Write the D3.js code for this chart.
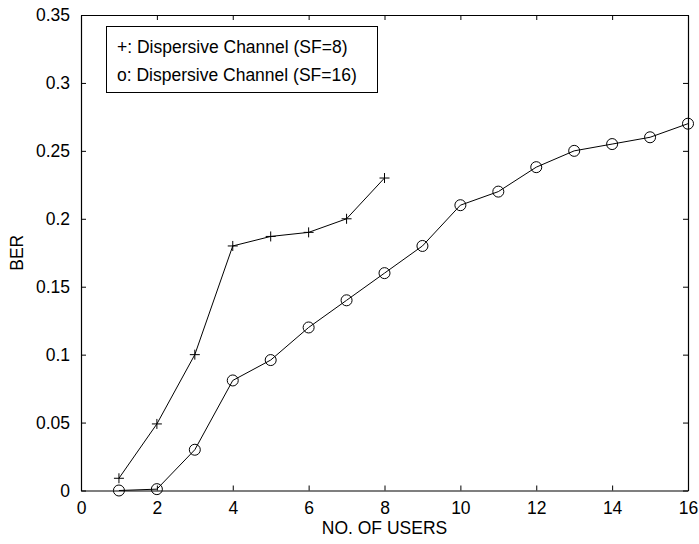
<!DOCTYPE html>
<html>
<head>
<meta charset="utf-8">
<script src="https://cdn.jsdelivr.net/npm/d3@7"></script>
<style>
  body { margin: 0; background: #fff; }
  svg text { font-family: "Liberation Sans", Arial, sans-serif; font-size: 17.5px; fill: #000; }
</style>
</head>
<body>
<svg id="chart" width="699" height="544"></svg>
<script>
// data
const usersSF8 = [1, 2, 3, 4, 5, 6, 7, 8];
const berSF8 = [0.009, 0.049, 0.1, 0.18, 0.187, 0.19, 0.2, 0.23];
const usersSF16 = [1, 2, 3, 4, 5, 6, 7, 8, 9, 10, 11, 12, 13, 14, 15, 16];
const berSF16 = [0, 0.001, 0.03, 0.081, 0.096, 0.12, 0.14, 0.16, 0.18, 0.21, 0.22, 0.238, 0.25, 0.255, 0.26, 0.27];
const xTicks = [0, 2, 4, 6, 8, 10, 12, 14, 16];
const yTicks = [0, 0.05, 0.1, 0.15, 0.2, 0.25, 0.3, 0.35];
const legendLabels = ["+: Dispersive Channel (SF=8)", "o: Dispersive Channel (SF=16)"];

const m = { left: 81, right: 688, top: 15, bottom: 490.5 };
const svg = d3.select("#chart");

const x = d3.scaleLinear().domain([0, 16]).range([m.left, m.right]);
const y = d3.scaleLinear().domain([0, 0.35]).range([m.bottom, m.top]);

// box + inward ticks on all four sides (matlab style)
const axes = svg.append("g");
const fmtY = d => d === 0 ? "0" : String(+d.toFixed(2));

axes.append("g").attr("transform", `translate(0,${m.bottom})`)
  .call(d3.axisBottom(x).tickValues(xTicks).tickSizeInner(-5).tickSizeOuter(0).tickPadding(11));
axes.append("g").attr("transform", `translate(0,${m.top})`)
  .call(d3.axisTop(x).tickValues(xTicks).tickSizeInner(-5).tickSizeOuter(0).tickFormat(""));
axes.append("g").attr("transform", `translate(${m.left},0)`)
  .call(d3.axisLeft(y).tickValues(yTicks).tickSizeInner(-5).tickSizeOuter(0).tickPadding(11).tickFormat(fmtY));
axes.append("g").attr("transform", `translate(${m.right},0)`)
  .call(d3.axisRight(y).tickValues(yTicks).tickSizeInner(-5).tickSizeOuter(0).tickFormat(""));

axes.selectAll(".domain").attr("stroke", "#000").attr("stroke-width", 1.2);
axes.selectAll(".tick line").attr("stroke", "#000").attr("stroke-width", 1);
axes.selectAll("text").attr("font-family", null).attr("font-size", null).attr("fill", "#000");

// series lines
const line = d3.line().x(d => x(d[0])).y(d => y(d[1]));
const s8 = d3.zip(usersSF8, berSF8);
const s16 = d3.zip(usersSF16, berSF16);

svg.append("path").datum(s8).attr("d", line)
  .attr("fill", "none").attr("stroke", "#000").attr("stroke-width", 1);
svg.append("path").datum(s16).attr("d", line)
  .attr("fill", "none").attr("stroke", "#000").attr("stroke-width", 1);

// markers: plus for SF=8, open circle for SF=16
svg.append("g").selectAll("path").data(s8).join("path")
  .attr("d", d => `M${x(d[0]) - 5},${y(d[1])}H${x(d[0]) + 5}M${x(d[0])},${y(d[1]) - 5}V${y(d[1]) + 5}`)
  .attr("stroke", "#000").attr("stroke-width", 1).attr("fill", "none");
svg.append("g").selectAll("circle").data(s16).join("circle")
  .attr("cx", d => x(d[0])).attr("cy", d => y(d[1])).attr("r", 5.5)
  .attr("stroke", "#000").attr("stroke-width", 1).attr("fill", "none");

// legend
const lg = svg.append("g");
lg.append("rect").attr("x", 106.5).attr("y", 26.5).attr("width", 271).attr("height", 66)
  .attr("fill", "#fff").attr("stroke", "#000").attr("stroke-width", 1);
lg.selectAll("text").data(legendLabels).join("text")
  .attr("x", 117).attr("y", (d, i) => 47 + i * 28).attr("dy", "0.35em")
  .text(d => d);

// axis titles
svg.append("text").attr("x", (m.left + m.right) / 2).attr("y", 528).attr("dy", "0.35em")
  .attr("text-anchor", "middle").text("NO. OF USERS");
svg.append("text").attr("transform", `translate(17,${(m.top + m.bottom) / 2}) rotate(-90)`)
  .attr("dy", "0.35em").attr("text-anchor", "middle").text("BER");
</script>
</body>
</html>
